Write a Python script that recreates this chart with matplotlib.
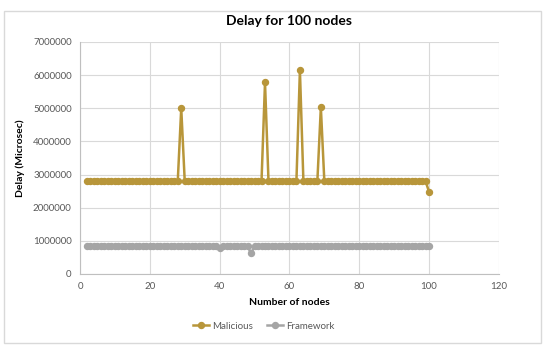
import matplotlib.pyplot as plt
from matplotlib.patches import Rectangle

plt.rcParams['font.family'] = ['Lato', 'DejaVu Sans']

# number of nodes (x values)
nodes = list(range(2, 101))

# delay in microseconds, nodes 2..100 (rows of 10)
malicious = [
    2800000, 2800000, 2800000, 2800000, 2800000, 2800000, 2800000, 2800000, 2800000, 2800000,
    2800000, 2800000, 2800000, 2800000, 2800000, 2800000, 2800000, 2800000, 2800000, 2800000,
    2800000, 2800000, 2800000, 2800000, 2800000, 2800000, 2800000, 5000000, 2800000, 2800000,
    2800000, 2800000, 2800000, 2800000, 2800000, 2800000, 2800000, 2800000, 2800000, 2800000,
    2800000, 2800000, 2800000, 2800000, 2800000, 2800000, 2800000, 2800000, 2800000, 2800000,
    2800000, 5780000, 2800000, 2800000, 2800000, 2800000, 2800000, 2800000, 2800000, 2800000,
    2800000, 6150000, 2800000, 2800000, 2800000, 2800000, 2800000, 5030000, 2800000, 2800000,
    2800000, 2800000, 2800000, 2800000, 2800000, 2800000, 2800000, 2800000, 2800000, 2800000,
    2800000, 2800000, 2800000, 2800000, 2800000, 2800000, 2800000, 2800000, 2800000, 2800000,
    2800000, 2800000, 2800000, 2800000, 2800000, 2800000, 2800000, 2800000, 2480000,
]
framework = [
    840000, 840000, 840000, 840000, 840000, 840000, 840000, 840000, 840000, 840000,
    840000, 840000, 840000, 840000, 840000, 840000, 840000, 840000, 840000, 840000,
    840000, 840000, 840000, 840000, 840000, 840000, 840000, 840000, 840000, 840000,
    840000, 840000, 840000, 840000, 840000, 840000, 840000, 840000, 790000, 840000,
    840000, 840000, 840000, 840000, 840000, 840000, 840000, 620000, 840000, 840000,
    840000, 840000, 840000, 840000, 840000, 840000, 840000, 840000, 840000, 840000,
    840000, 840000, 840000, 840000, 840000, 840000, 840000, 840000, 840000, 840000,
    840000, 840000, 840000, 840000, 840000, 840000, 840000, 840000, 840000, 840000,
    840000, 840000, 840000, 840000, 840000, 840000, 840000, 840000, 840000, 840000,
    840000, 840000, 840000, 840000, 840000, 840000, 840000, 840000, 840000,
]

gold = '#B8963A'
grey = '#A5A5A5'
tick_col = '#595959'

fig = plt.figure(figsize=(5.5, 3.47), dpi=100)
ax = fig.add_axes([0.1455, 0.2104, 0.7615, 0.6686])

ax.plot(nodes, malicious, color=gold, lw=1.8, marker='o', ms=4.3, label='Malicious')
ax.plot(nodes, framework, color=grey, lw=1.8, marker='o', ms=4.3, label='Framework')

ax.set_xlim(0, 120)
ax.set_ylim(0, 7000000)
ax.set_xticks(range(0, 121, 20))
ax.set_yticks(range(0, 7000001, 1000000))
ax.set_yticklabels([str(v) for v in range(0, 7000001, 1000000)])
ax.grid(True, color='#D9D9D9', lw=0.8)
ax.set_axisbelow(True)
for s in ['top', 'right']:
    ax.spines[s].set_visible(False)
for s in ['left', 'bottom']:
    ax.spines[s].set_color('#BFBFBF')
ax.tick_params(length=0, labelsize=7, labelcolor=tick_col, pad=6)

ax.set_title('Delay for 100 nodes', fontsize=10, fontweight='bold', pad=12)
ax.set_xlabel('Number of nodes', fontsize=7.5, fontweight='bold', labelpad=5)
ax.set_ylabel('Delay (Microsec)', fontsize=7.5, fontweight='bold', labelpad=6)

fig.legend(loc='center', bbox_to_anchor=(0.48, 0.06), ncol=2, frameon=False,
           fontsize=7, labelcolor=tick_col, handlelength=1.6, handletextpad=0.4,
           columnspacing=1.4)

fig.patches.append(Rectangle((0.008, 0.012), 0.975, 0.955, transform=fig.transFigure,
                             fill=False, edgecolor='#D9D9D9', lw=1))

fig.savefig('out.png', dpi=100)
